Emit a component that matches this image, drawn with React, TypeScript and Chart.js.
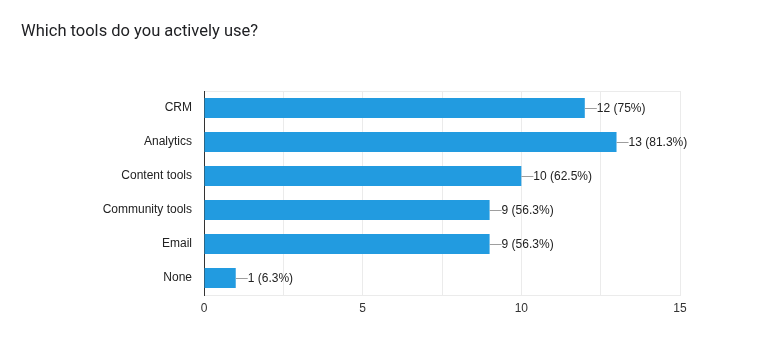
import React, { useEffect, useRef } from "react";
import { Chart, registerables } from "chart.js";

Chart.register(...registerables);

const title = "Which tools do you actively use?";
const categories = ["CRM", "Analytics", "Content tools", "Community tools", "Email", "None"];
const counts = [12, 13, 10, 9, 9, 1];
const percents = ["75%", "81.3%", "62.5%", "56.3%", "56.3%", "6.3%"];
const xTicks = [0, 5, 10, 15];

const AXIS_FONT = "Arial, 'Liberation Sans', sans-serif";

const barLabelPlugin = {
  id: "barLabels",
  afterDatasetsDraw(chart: any) {
    const ctx = chart.ctx;
    const meta = chart.getDatasetMeta(0);
    ctx.save();
    ctx.font = `12px ${AXIS_FONT}`;
    ctx.textBaseline = "middle";
    ctx.textAlign = "left";
    meta.data.forEach((bar: any, i: number) => {
      const x = bar.x;
      const y = Math.round(bar.y) + 0.5;
      ctx.strokeStyle = "#9e9e9e";
      ctx.lineWidth = 1;
      ctx.beginPath();
      ctx.moveTo(x, y);
      ctx.lineTo(x + 12, y);
      ctx.stroke();
      ctx.fillStyle = "#222222";
      ctx.fillText(`${counts[i]} (${percents[i]})`, x + 12, y + 0.5);
    });
    ctx.restore();
  },
};

export default function App() {
  const ref = useRef<HTMLCanvasElement | null>(null);
  useEffect(() => {
    if (!ref.current) return;
    const chart = new Chart(ref.current, {
      type: "bar",
      data: {
        labels: categories,
        datasets: [
          {
            data: counts,
            backgroundColor: "#229be0",
            borderWidth: 0,
            barPercentage: 0.59,
            categoryPercentage: 1,
          },
        ],
      },
      options: {
        indexAxis: "y",
        animation: false,
        responsive: false,
        maintainAspectRatio: false,
        layout: { padding: { left: 21, right: 83, top: 22, bottom: 0 } },
        plugins: {
          legend: { display: false },
          tooltip: { enabled: false },
          title: {
            display: true,
            text: title,
            align: "start",
            color: "#202124",
            font: { family: "Roboto, Arial, sans-serif", size: 16.5, weight: "normal", lineHeight: 1.2 },
            padding: { top: 0, bottom: 49.2 },
          },
        },
        scales: {
          x: {
            min: 0,
            max: 15,
            afterFit: (s: any) => {
              s.height = 59;
            },
            ticks: {
              stepSize: 2.5,
              autoSkip: false,
              maxRotation: 0,
              padding: 6,
              color: "#333333",
              font: { family: AXIS_FONT, size: 12 },
              callback: (v: any) => (xTicks.includes(Number(v)) ? String(v) : ""),
            },
            grid: { color: "#ebebeb", drawTicks: false },
            border: { display: true, color: "#ebebeb" },
          },
          y: {
            afterFit: (s: any) => {
              s.width = 183;
            },
            ticks: {
              padding: 12,
              color: "#222222",
              font: { family: AXIS_FONT, size: 12 },
            },
            grid: {
              drawTicks: false,
              color: (c: any) => (c.index === 0 || c.index === categories.length ? "#ebebeb" : "rgba(0,0,0,0)"),
            },
            border: { display: true, color: "#333333" },
          },
        },
      },
      plugins: [barLabelPlugin],
    });
    return () => chart.destroy();
  }, []);
  return (
    <div style={{ position: "absolute", left: 0, top: 0, width: 763, height: 354, background: "#fff" }}>
      <canvas ref={ref} width={763} height={354} style={{ display: "block" }} />
    </div>
  );
}
